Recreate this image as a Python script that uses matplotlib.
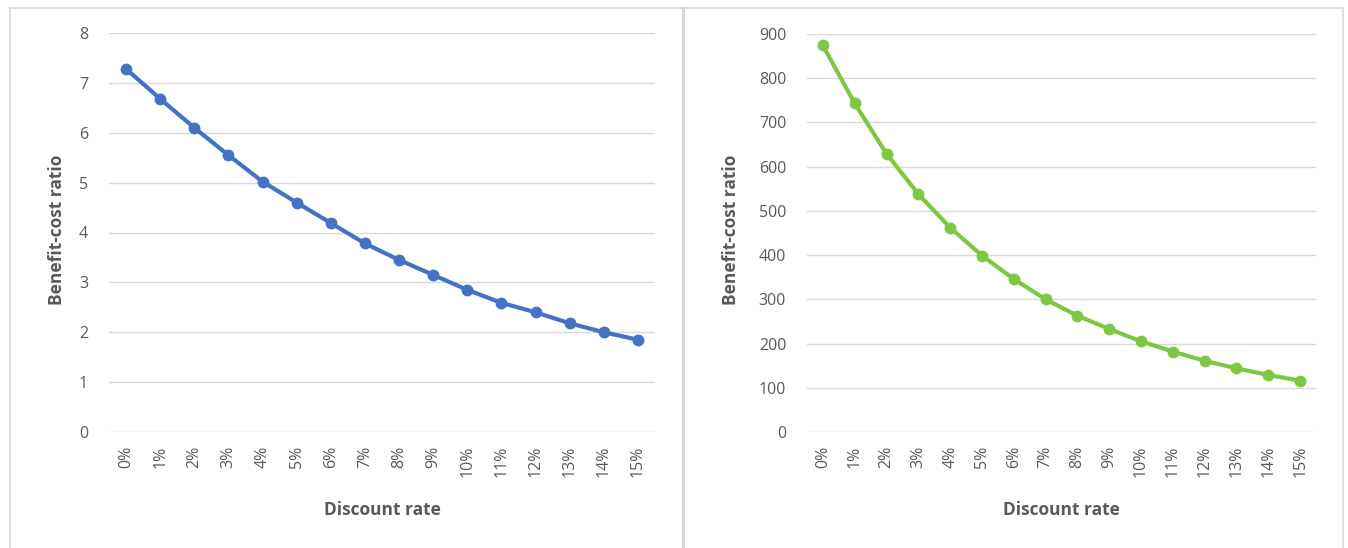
import matplotlib
matplotlib.use("Agg")
import matplotlib.pyplot as plt
from matplotlib.lines import Line2D

plt.rcParams['font.family'] = ['Open Sans', 'DejaVu Sans']

rates = ["0%", "1%", "2%", "3%", "4%", "5%", "6%", "7%",
         "8%", "9%", "10%", "11%", "12%", "13%", "14%", "15%"]
bcr_left = [7.28, 6.68, 6.10, 5.55, 5.02, 4.60, 4.19, 3.78,
            3.45, 3.15, 2.85, 2.59, 2.40, 2.18, 2.00, 1.85]
bcr_right = [874, 743, 629, 538, 462, 399, 346, 300,
             263, 233, 205, 182, 161, 144, 129, 116]
left_ticks = [0, 1, 2, 3, 4, 5, 6, 7, 8]
right_ticks = [0, 100, 200, 300, 400, 500, 600, 700, 800, 900]

W, H = 1348, 548
fig = plt.figure(figsize=(W / 100, H / 100), dpi=100)
fig.patch.set_facecolor("white")

text_gray = "#595959"
grid_gray = "#D9D9D9"
frame_gray = "#D9D9D9"


def fx(px):
    return px / W


def fy(py):
    return 1 - py / H


# outer frame and divider between the two panels
frame_lines = [
    ([fx(10), fx(10)], [fy(8), 0], 1.2),
    ([fx(10), fx(1343)], [fy(8), fy(8)], 1.2),
    ([fx(1343), fx(1343)], [fy(8), 0], 1.2),
    ([fx(683), fx(683)], [fy(8), 0], 2.2),
]
for xs, ys, lw in frame_lines:
    fig.add_artist(Line2D(xs, ys, color=frame_gray, lw=lw, transform=fig.transFigure))


def panel(rect, values, ticks, color, ylabel_x):
    ax = fig.add_axes(rect)
    x = list(range(len(rates)))
    ax.plot(x, values, color=color, lw=3.0, marker="o", markersize=7.5,
            solid_capstyle="round", solid_joinstyle="round", zorder=3)
    ax.set_xlim(-0.5, len(rates) - 0.5)
    ax.set_ylim(ticks[0], ticks[-1])
    ax.set_yticks(ticks)
    ax.set_yticklabels([str(t) for t in ticks])
    ax.set_xticks(x)
    ax.set_xticklabels(rates, rotation=90)
    for s in ax.spines.values():
        s.set_visible(False)
    ax.yaxis.grid(True, color=grid_gray, lw=1.0)
    ax.set_axisbelow(True)
    ax.tick_params(axis="both", length=0, colors=text_gray, labelsize=11.5)
    ax.tick_params(axis="y", pad=15)
    ax.tick_params(axis="x", pad=10)
    ax.set_xlabel("Discount rate", fontsize=12.5, fontweight="bold",
                  color=text_gray, labelpad=17)
    fig.text(ylabel_x, fy(230), "Benefit-cost ratio", rotation=90,
             fontsize=12.5, fontweight="bold", color=text_gray,
             ha="center", va="center")
    return ax


panel([fx(109), fy(432), fx(655) - fx(109), fy(33) - fy(432)],
      bcr_left, left_ticks, "#4472C4", fx(57))
panel([fx(807), fy(432), fx(1316) - fx(807), fy(34) - fy(432)],
      bcr_right, right_ticks, "#7DC843", fx(731))

fig.savefig("out.png", dpi=100, facecolor="white")
